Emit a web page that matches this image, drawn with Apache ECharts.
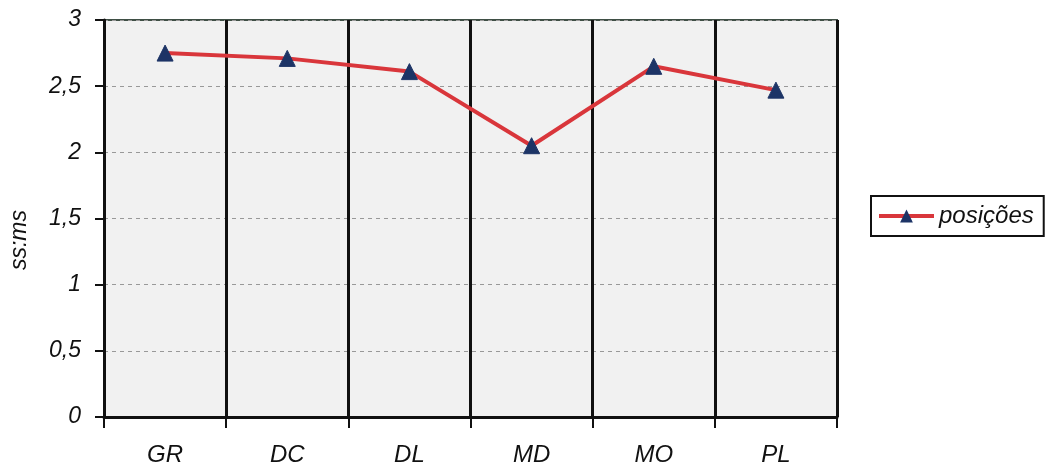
<!DOCTYPE html>
<html><head><meta charset="utf-8">
<script src="https://cdn.jsdelivr.net/npm/echarts@6/dist/echarts.min.js"></script>
<style>html,body{margin:0;padding:0;background:#fff}#c{width:1047px;height:467px}</style>
</head><body><div id="c"></div>
<script>
const categories = ['GR','DC','DL','MD','MO','PL'];
const values = [2.75, 2.71, 2.61, 2.05, 2.65, 2.47];
const seriesName = 'posições';
const yAxisName = 'ss:ms';

const chart = echarts.init(document.getElementById('c'));
const font = 'Liberation Sans, Arial, sans-serif';
chart.setOption({
  animation: false,
  backgroundColor: '#ffffff',
  grid: { left: 104, right: 210, top: 20, bottom: 50, show: true, backgroundColor: '#f1f1f1', borderColor: '#3f4f45', borderWidth: 2 },
  legend: {
    data: [seriesName], left: 871, top: 196, orient: 'vertical',
    itemWidth: 55, itemHeight: 16, itemGap: 0,
    borderColor: '#111', borderWidth: 2, padding: [8, 10, 8, 6],
    lineStyle: { width: 4 },
    textStyle: { fontFamily: font, fontStyle: 'italic', fontSize: 24, color: '#111' }
  },
  graphic: [{
    type: 'text', x: 20, y: 240, rotation: Math.PI / 2,
    style: { text: yAxisName, fontFamily: font, fontStyle: 'italic', fontSize: 23, fill: '#111', align: 'center', verticalAlign: 'middle' }
  }],
  xAxis: {
    type: 'category', data: categories, boundaryGap: true,
    axisLine: { lineStyle: { color: '#111', width: 3 } },
    axisTick: { show: true, length: 11, lineStyle: { color: '#111', width: 2 } },
    splitLine: { show: true, lineStyle: { color: '#111', width: 3 } },
    axisLabel: { fontFamily: font, fontStyle: 'italic', fontSize: 24, color: '#111', margin: 26 }
  },
  yAxis: {
    type: 'value', min: 0, max: 3, interval: 0.5,
    axisLine: { show: true, lineStyle: { color: '#111', width: 3 } },
    axisTick: { show: true, length: 9, lineStyle: { color: '#111', width: 2 } },
    splitLine: { show: true, lineStyle: { color: '#999', type: [4, 4], width: 1 } },
    axisLabel: { fontFamily: font, fontStyle: 'italic', fontSize: 23, color: '#111', margin: 23,
      formatter: v => String(v).replace('.', ',') }
  },
  series: [{
    name: seriesName, type: 'line', data: values,
    symbol: 'triangle', symbolSize: 16,
    itemStyle: { color: '#1d3466', borderColor: '#1d3466' },
    lineStyle: { color: '#d9363b', width: 4 }
  }]
});
</script></body></html>
